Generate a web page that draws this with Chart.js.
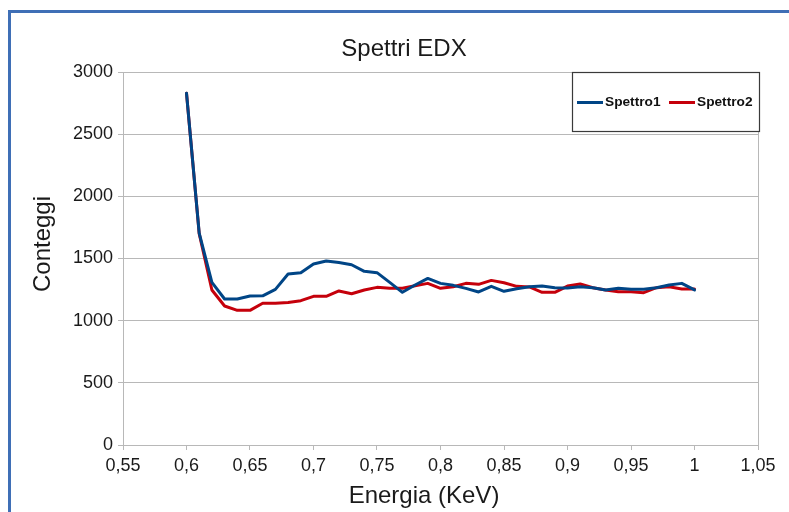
<!DOCTYPE html>
<html>
<head>
<meta charset="utf-8">
<title>Spettri EDX</title>
<script src="https://cdn.jsdelivr.net/npm/chart.js@4.4.0/dist/chart.umd.min.js"></script>
<style>
  html, body { margin: 0; padding: 0; background: #ffffff; overflow: hidden; }
  #wrap { position: relative; width: 789px; height: 512px; }
  #frame {
    position: absolute; left: 8px; top: 10px; width: 900px; height: 700px;
    border: 3px solid #3f6fb6; box-sizing: border-box; pointer-events: none;
  }
  canvas { position: absolute; left: 0; top: 0; }
</style>
</head>
<body>
<div id="wrap">
  <canvas id="c" width="789" height="512" style="width:789px;height:512px"></canvas>
  <div id="frame"></div>
</div>
<script>
// Energy channels (keV)
const energia = [
  0.60, 0.61, 0.62, 0.63, 0.64, 0.65, 0.66, 0.67, 0.68, 0.69,
  0.70, 0.71, 0.72, 0.73, 0.74, 0.75, 0.76, 0.77, 0.78, 0.79,
  0.80, 0.81, 0.82, 0.83, 0.84, 0.85, 0.86, 0.87, 0.88, 0.89,
  0.90, 0.91, 0.92, 0.93, 0.94, 0.95, 0.96, 0.97, 0.98, 0.99, 1.00
];

// Counts per channel
const spettro1 = [
  2830, 1705, 1308, 1174, 1174, 1198, 1200, 1252, 1375, 1386,
  1456, 1480, 1467, 1450, 1397, 1386, 1308, 1228, 1287, 1340,
  1300, 1284, 1260, 1231, 1276, 1236, 1257, 1273, 1279, 1265,
  1262, 1273, 1265, 1247, 1260, 1252, 1252, 1265, 1287, 1300, 1247
];
const spettro2 = [
  2830, 1700, 1247, 1118, 1083, 1083, 1140, 1140, 1147, 1161,
  1196, 1196, 1239, 1217, 1247, 1268, 1260, 1260, 1281, 1300,
  1260, 1273, 1300, 1292, 1324, 1305, 1276, 1271, 1228, 1228,
  1278, 1295, 1265, 1247, 1233, 1233, 1225, 1265, 1273, 1255, 1255
];

// Axis tick labels (Italian decimal comma)
const xTickLabels = ['0,55', '0,6', '0,65', '0,7', '0,75', '0,8', '0,85', '0,9', '0,95', '1', '1,05'];
const yTickLabels = ['0', '500', '1000', '1500', '2000', '2500', '3000'];

const seriesNames = ['Spettro1', 'Spettro2'];
const seriesColors = ['#004586', '#c5000b'];

const FONT = '"Liberation Sans", Arial, sans-serif';
const TEXT = '#1a1a1a';
const GRID = '#b8b8b8';

function points(ys) {
  return energia.map((x, i) => ({ x: x, y: ys[i] }));
}

// Titles and the boxed legend
const decorations = {
  id: 'decorations',
  afterDraw(chart) {
    const ctx = chart.ctx;
    ctx.save();
    ctx.fillStyle = TEXT;

    // chart title
    ctx.font = '24px ' + FONT;
    ctx.textAlign = 'center';
    ctx.textBaseline = 'alphabetic';
    ctx.fillText('Spettri EDX', 404, 56);

    // x axis title
    ctx.fillText('Energia (KeV)', 424, 503);

    // y axis title
    ctx.save();
    ctx.translate(50, 244);
    ctx.rotate(-Math.PI / 2);
    ctx.fillText('Conteggi', 0, 0);
    ctx.restore();

    // legend box
    const lx = 572, ly = 72, lw = 187, lh = 59;
    ctx.fillStyle = '#ffffff';
    ctx.fillRect(lx, ly, lw, lh);
    ctx.strokeStyle = '#3a3a3a';
    ctx.lineWidth = 1.2;
    ctx.strokeRect(lx + 0.5, ly + 0.5, lw, lh);

    ctx.font = 'bold 13.7px ' + FONT;
    ctx.textAlign = 'left';
    ctx.textBaseline = 'middle';
    const itemX = [577, 669];
    const cy = 102;
    chart.data.datasets.forEach((ds, i) => {
      const x0 = itemX[i];
      ctx.strokeStyle = ds.borderColor;
      ctx.lineWidth = 3;
      ctx.beginPath();
      ctx.moveTo(x0, cy + 0.5);
      ctx.lineTo(x0 + 26, cy + 0.5);
      ctx.stroke();
      ctx.fillStyle = '#111111';
      ctx.fillText(ds.label, x0 + 28, cy);
    });
    ctx.restore();
  }
};

new Chart(document.getElementById('c'), {
  type: 'line',
  data: {
    datasets: [
      { label: seriesNames[0], data: points(spettro1), borderColor: seriesColors[0], backgroundColor: seriesColors[0] },
      { label: seriesNames[1], data: points(spettro2), borderColor: seriesColors[1], backgroundColor: seriesColors[1] }
    ]
  },
  options: {
    responsive: false,
    animation: false,
    devicePixelRatio: 1,
    layout: { padding: { top: 72, right: 31, left: 0, bottom: 0 } },
    elements: {
      line: { borderWidth: 3, tension: 0, borderJoinStyle: 'round', borderCapStyle: 'round' },
      point: { radius: 0, hoverRadius: 0 }
    },
    plugins: {
      legend: { display: false },
      title: { display: false },
      tooltip: { enabled: false }
    },
    scales: {
      x: {
        type: 'linear',
        min: 0.55,
        max: 1.05,
        afterFit(scale) { scale.height = 67; },
        afterBuildTicks(scale) {
          scale.ticks = xTickLabels.map((_, i) => ({ value: 0.55 + i * 0.05 }));
        },
        ticks: {
          autoSkip: false,
          maxRotation: 0,
          padding: 5,
          color: TEXT,
          font: { family: FONT, size: 18 },
          callback: (v, i) => xTickLabels[i]
        },
        grid: {
          drawOnChartArea: true,
          color: (c) => (c.index === xTickLabels.length - 1 ? GRID : 'rgba(0,0,0,0)'),
          tickColor: GRID,
          tickLength: 5,
          lineWidth: 1
        },
        border: { display: true, color: GRID, width: 1 }
      },
      y: {
        type: 'linear',
        min: 0,
        max: 3000,
        afterFit(scale) { scale.width = 123; },
        ticks: {
          stepSize: 500,
          padding: 5,
          color: TEXT,
          font: { family: FONT, size: 18 },
          callback: (v, i) => yTickLabels[i]
        },
        grid: { color: GRID, tickColor: GRID, tickLength: 5, lineWidth: 1 },
        border: { display: true, color: GRID, width: 1 }
      }
    }
  },
  plugins: [decorations]
});
</script>
</body>
</html>
